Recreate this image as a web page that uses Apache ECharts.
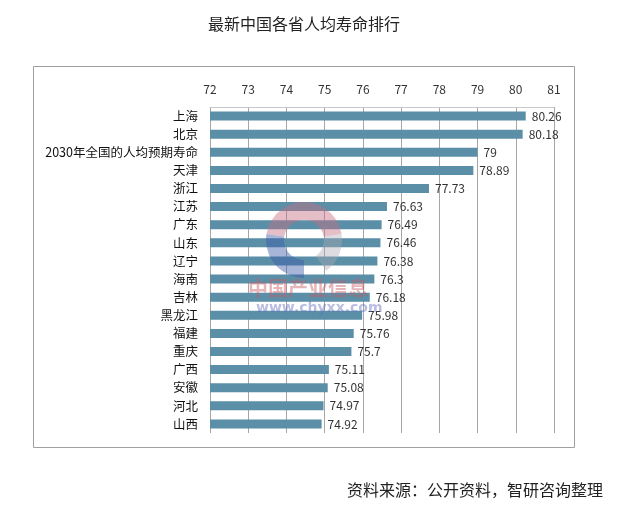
<!DOCTYPE html>
<html><head><meta charset="utf-8">
<script src="https://cdn.jsdelivr.net/npm/echarts@6/dist/echarts.min.js"></script>
<style>html,body{margin:0;padding:0;background:#fff}#c{width:619px;height:507px}</style>
</head><body><div id="c"></div>
<script>
var categories = ['上海','北京','2030年全国的人均预期寿命','天津','浙江','江苏','广东','山东','辽宁','海南','吉林','黑龙江','福建','重庆','广西','安徽','河北','山西'];
var values = [80.26,80.18,79,78.89,77.73,76.63,76.49,76.46,76.38,76.3,76.18,75.98,75.76,75.7,75.11,75.08,74.97,74.92];
var axisMin = 72, axisMax = 81, axisStep = 1;
var titleText = '最新中国各省人均寿命排行';
var sourceText = '资料来源：公开资料，智研咨询整理';
var font = '"Noto Sans CJK SC", "Noto Sans", sans-serif';
var chart = echarts.init(document.getElementById('c'));
chart.setOption({
  animation: false,
  backgroundColor: '#fff',
  title: { text: titleText, left: 203, top: 11, textStyle: { fontFamily: font, fontSize: 16, fontWeight: 'normal', color: '#222' } },
  grid: { left: 210, right: 65, top: 107, bottom: 74 },
  xAxis: {
    type: 'value', position: 'top', min: axisMin, max: axisMax, interval: axisStep,
    axisLine: { show: true, lineStyle: { color: '#c8c8c8' } },
    axisTick: { show: false },
    axisLabel: { margin: 12, fontFamily: font, fontSize: 12, color: '#333' },
    splitLine: { show: true, lineStyle: { color: '#a6a6a6', width: 1 } }
  },
  yAxis: {
    type: 'category', data: categories, inverse: true,
    axisLine: { show: false }, axisTick: { show: false },
    axisLabel: { margin: 12, fontFamily: font, fontSize: 12.5, color: '#111' }
  },
  series: [{
    type: 'bar', data: values, barWidth: 9,
    itemStyle: { color: '#5a8fa7' },
    label: { show: true, position: 'right', distance: 6, fontFamily: font, fontSize: 12, color: '#333' }
  }],
  graphic: [
    { type: 'rect', shape: { x: 33.5, y: 66.5, width: 541, height: 381 }, style: { fill: 'none', stroke: '#a0a0a0', lineWidth: 1 }, z: 0 },
    { type: 'sector', shape: { cx: 304, cy: 240, r0: 20, r: 38, startAngle: Math.PI * 1.05, endAngle: Math.PI * 1.95 }, style: { fill: 'rgba(200,110,130,0.45)' }, z: 100 },
    { type: 'sector', shape: { cx: 304, cy: 240, r0: 20, r: 38, startAngle: Math.PI * 0.5, endAngle: Math.PI * 1.05 }, style: { fill: 'rgba(60,90,170,0.45)' }, z: 100 },
    { type: 'sector', shape: { cx: 304, cy: 240, r0: 20, r: 38, startAngle: Math.PI * 1.95, endAngle: Math.PI * 2.3 }, style: { fill: 'rgba(170,170,180,0.4)' }, z: 100 },
    { type: 'text', left: 248, top: 278, style: { text: '中国产业信息', font: 'bold 20px ' + font, fill: 'rgba(200,90,100,0.45)' }, z: 100 },
    { type: 'text', left: 256, top: 301, style: { text: 'www.chyxx.com', font: 'bold 14px "DejaVu Sans", sans-serif', fill: 'rgba(100,110,190,0.45)' }, z: 100 },
    { type: 'text', left: 347, top: 482, style: { text: sourceText, font: '16px ' + font, fill: '#222' } }
  ]
});
</script></body></html>
